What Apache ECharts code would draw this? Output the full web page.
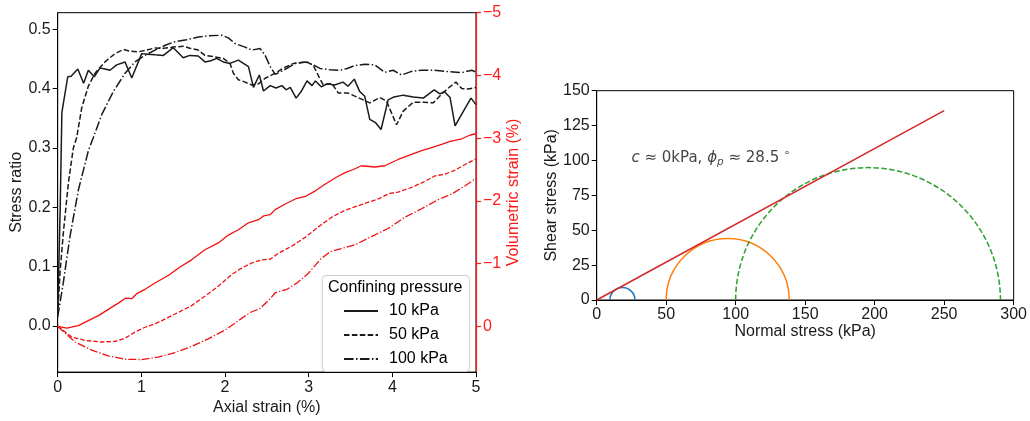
<!DOCTYPE html>
<html><head><meta charset="utf-8">
<script src="https://cdn.jsdelivr.net/npm/echarts@6/dist/echarts.min.js"></script>
<style>html,body{margin:0;padding:0;background:#fff}#c{width:1030px;height:421px}</style>
</head><body><div id="c"></div>
<script>
// ---- Left panel: stress ratio vs axial strain (%) ----
const strain10 = [0, 0.03, 0.05, 0.12, 0.16, 0.24, 0.31, 0.366, 0.437, 0.506, 0.566, 0.625, 0.705, 0.805, 0.885, 1.004, 1.08, 1.163, 1.263, 1.382, 1.50, 1.58, 1.68, 1.76, 1.83, 1.90, 1.98, 2.06, 2.16, 2.28, 2.34, 2.41, 2.46, 2.54, 2.61, 2.68, 2.73, 2.78, 2.85, 2.91, 2.98, 3.04, 3.08, 3.15, 3.22, 3.31, 3.41, 3.47, 3.545, 3.61, 3.67, 3.73, 3.80, 3.865, 3.95, 4.02, 4.13, 4.25, 4.37, 4.50, 4.57, 4.62, 4.69, 4.75, 4.85, 4.94, 5.0];
const ratio10 = [0.02, 0.2, 0.36, 0.42, 0.421, 0.433, 0.409, 0.431, 0.42, 0.435, 0.433, 0.431, 0.44, 0.445, 0.418, 0.459, 0.458, 0.457, 0.456, 0.469, 0.452, 0.456, 0.455, 0.445, 0.447, 0.451, 0.445, 0.4425, 0.448, 0.437, 0.402, 0.423, 0.396, 0.405, 0.401, 0.405, 0.398, 0.402, 0.384, 0.395, 0.413, 0.405, 0.413, 0.403, 0.408, 0.406, 0.411, 0.404, 0.416, 0.395, 0.387, 0.348, 0.3425, 0.331, 0.381, 0.386, 0.389, 0.386, 0.384, 0.398, 0.391, 0.395, 0.385, 0.337, 0.362, 0.384, 0.373];

const strain50 = [0, 0.028, 0.067, 0.127, 0.187, 0.227, 0.287, 0.366, 0.446, 0.565, 0.685, 0.785, 0.864, 0.964, 1.06, 1.163, 1.27, 1.382, 1.50, 1.58, 1.68, 1.76, 1.88, 1.98, 2.06, 2.10, 2.16, 2.24, 2.32, 2.40, 2.48, 2.60, 2.70, 2.82, 2.98, 3.055, 3.14, 3.175, 3.275, 3.355, 3.47, 3.59, 3.73, 3.85, 3.93, 4.05, 4.13, 4.25, 4.37, 4.49, 4.59, 4.67, 4.76, 4.83, 4.91, 5.0];
const ratio50 = [0.0175, 0.09, 0.156, 0.24, 0.30, 0.3175, 0.3675, 0.404, 0.426, 0.445, 0.459, 0.466, 0.463, 0.462, 0.465, 0.4685, 0.468, 0.47, 0.4715, 0.468, 0.465, 0.456, 0.4535, 0.451, 0.4425, 0.426, 0.415, 0.411, 0.406, 0.408, 0.4175, 0.426, 0.435, 0.4425, 0.445, 0.439, 0.415, 0.406, 0.409, 0.3925, 0.3925, 0.385, 0.376, 0.385, 0.379, 0.339, 0.362, 0.377, 0.377, 0.376, 0.391, 0.401, 0.411, 0.40, 0.3995, 0.402];

const strain100 = [0, 0.067, 0.147, 0.247, 0.366, 0.426, 0.526, 0.665, 0.805, 0.924, 1.04, 1.163, 1.30, 1.40, 1.54, 1.68, 1.80, 1.96, 2.04, 2.12, 2.24, 2.32, 2.42, 2.48, 2.54, 2.60, 2.70, 2.84, 2.96, 3.055, 3.135, 3.25, 3.375, 3.46, 3.555, 3.67, 3.79, 3.91, 4.01, 4.11, 4.23, 4.35, 4.49, 4.63, 4.73, 4.83, 4.95, 5.0];
const ratio100 = [0.015, 0.073, 0.151, 0.229, 0.295, 0.3175, 0.356, 0.395, 0.426, 0.445, 0.456, 0.465, 0.474, 0.479, 0.4825, 0.487, 0.489, 0.49, 0.4855, 0.476, 0.47, 0.465, 0.4675, 0.456, 0.437, 0.424, 0.431, 0.4425, 0.445, 0.44, 0.434, 0.432, 0.431, 0.434, 0.439, 0.441, 0.44, 0.4275, 0.431, 0.423, 0.429, 0.431, 0.431, 0.429, 0.428, 0.427, 0.431, 0.428];

// volumetric strain (%) — plotted on inverted right axis
const vStrain10 = [0, 0.108, 0.247, 0.366, 0.486, 0.605, 0.725, 0.813, 0.885, 0.944, 1.044, 1.163, 1.322, 1.462, 1.60, 1.76, 1.92, 2.04, 2.16, 2.28, 2.40, 2.46, 2.54, 2.60, 2.72, 2.84, 2.96, 3.08, 3.20, 3.335, 3.435, 3.535, 3.63, 3.79, 3.91, 4.07, 4.23, 4.35, 4.47, 4.59, 4.69, 4.83, 4.93, 5.0];
const vol10 = [0, 0.03, -0.01, -0.09, -0.17, -0.27, -0.37, -0.45, -0.44, -0.52, -0.59, -0.69, -0.81, -0.945, -1.06, -1.22, -1.33, -1.455, -1.54, -1.65, -1.70, -1.76, -1.78, -1.86, -1.95, -2.03, -2.07, -2.16, -2.27, -2.38, -2.45, -2.50, -2.56, -2.54, -2.56, -2.66, -2.74, -2.80, -2.85, -2.90, -2.95, -2.99, -3.05, -3.07];

const vStrain50 = [0, 0.167, 0.326, 0.526, 0.685, 0.805, 0.924, 1.044, 1.163, 1.28, 1.44, 1.60, 1.76, 1.92, 2.08, 2.20, 2.32, 2.44, 2.54, 2.64, 2.80, 2.96, 3.115, 3.275, 3.435, 3.63, 3.83, 3.97, 4.07, 4.23, 4.39, 4.51, 4.63, 4.75, 4.87, 5.0];
const vol50 = [0, 0.17, 0.225, 0.25, 0.24, 0.19, 0.09, 0.015, -0.04, -0.115, -0.22, -0.33, -0.48, -0.64, -0.825, -0.93, -1.01, -1.06, -1.07, -1.165, -1.28, -1.42, -1.585, -1.74, -1.85, -1.94, -2.03, -2.12, -2.14, -2.215, -2.31, -2.40, -2.425, -2.49, -2.58, -2.67];

const vStrain100 = [0, 0.207, 0.406, 0.605, 0.805, 1.004, 1.20, 1.40, 1.60, 1.80, 2.00, 2.16, 2.30, 2.42, 2.54, 2.60, 2.74, 2.86, 3.0, 3.135, 3.255, 3.39, 3.555, 3.75, 3.95, 4.15, 4.35, 4.55, 4.71, 4.87, 5.0];
const vol100 = [0, 0.25, 0.38, 0.47, 0.525, 0.53, 0.49, 0.42, 0.32, 0.20, 0.06, -0.09, -0.22, -0.285, -0.44, -0.535, -0.59, -0.69, -0.85, -1.06, -1.19, -1.24, -1.30, -1.43, -1.56, -1.74, -1.875, -2.02, -2.11, -2.24, -2.36];

const pressureNames = ['10 kPa', '50 kPa', '100 kPa'];
const stressTicks = [0.0, 0.1, 0.2, 0.3, 0.4, 0.5];
const volTicks = [-5, -4, -3, -2, -1, 0];

// ---- Right panel: Mohr circles ----
const sigma3 = [9.5, 50, 100];
const sigma1 = [27.5, 138.5, 290.5];
const circleColors = ['#1f77b4', '#ff7f0e', '#2ca02c'];
const envelopeSigma = [0, 250];
const envelopeTau = [0, 135.7];
const annotation = {x: 25, y: 102};

const zip = (a, b) => a.map((v, i) => [v, b[i]]);
const FONT = 'Liberation Sans';
const DASH = [5.5, 2.4];
const DASHDOT = [9.6, 2.4, 1.5, 2.4];
const RDASH = [4.6, 2];
const RDASHDOT = [8, 2, 1.3, 2];

const chart = echarts.init(document.getElementById('c'), null, {renderer: 'canvas'});

const tickStyle = {fontFamily: FONT, fontSize: 16, color: '#1a1a1a'};
const nameStyle = {fontFamily: FONT, fontSize: 16, color: '#1a1a1a'};

function blackLine(name, data, dash) {
  return {type: 'line', name, data, xAxisIndex: 0, yAxisIndex: 0, showSymbol: false, symbol: 'none',
    lineStyle: {color: '#1a1a1a', width: 1.5, type: dash}, itemStyle: {color: '#1a1a1a'}, z: 3};
}
function redLine(name, data, dash) {
  return {type: 'line', name, data, xAxisIndex: 0, yAxisIndex: 1, showSymbol: false, symbol: 'none',
    lineStyle: {color: '#f01010', width: 1.3, type: dash}, itemStyle: {color: '#f01010'}, z: 3};
}

const mohrData = sigma3.map((s, i) => [s, sigma1[i], i]);

const option = {
  animation: false,
  backgroundColor: '#fff',
  grid: [
    {left: 57.7, top: 12.7, width: 418.3, height: 364.3, show: true, borderColor: '#000', borderWidth: 1, backgroundColor: 'transparent', containLabel: false},
    {left: 596.7, top: 90.7, width: 419, height: 209.3, show: true, borderColor: '#000', borderWidth: 1, backgroundColor: 'transparent', containLabel: false}
  ],
  xAxis: [
    {gridIndex: 0, type: 'value', min: 0, max: 5, interval: 1,
      name: 'Axial strain (%)', nameLocation: 'middle', nameGap: 21, nameTextStyle: nameStyle,
      axisLine: {show: true, onZero: false, lineStyle: {color: '#000', width: 1}},
      axisTick: {show: true, inside: false, length: 5, lineStyle: {color: '#000'}},
      axisLabel: Object.assign({margin: 7}, tickStyle), splitLine: {show: false}},
    {gridIndex: 1, type: 'value', min: 0, max: 300, interval: 50,
      name: 'Normal stress (kPa)', nameLocation: 'middle', nameGap: 20, nameTextStyle: nameStyle,
      axisLine: {show: true, onZero: false, lineStyle: {color: '#000', width: 1}},
      axisTick: {show: true, length: 5, lineStyle: {color: '#000'}},
      axisLabel: Object.assign({margin: 7}, tickStyle), splitLine: {show: false}}
  ],
  yAxis: [
    {gridIndex: 0, type: 'value', min: -0.078, max: 0.528, position: 'left',
      name: 'Stress ratio', nameLocation: 'middle', nameGap: 31, nameRotate: 90, nameTextStyle: nameStyle,
      axisLine: {show: true, onZero: false, lineStyle: {color: '#000', width: 1}},
      axisTick: {show: true, length: 5, customValues: stressTicks, lineStyle: {color: '#000'}},
      axisLabel: Object.assign({margin: 7, customValues: stressTicks, formatter: v => v.toFixed(1)}, tickStyle),
      splitLine: {show: false}},
    {gridIndex: 0, type: 'value', min: -5, max: 0.73, inverse: true, position: 'right',
      name: 'Volumetric strain (%)', nameLocation: 'middle', nameGap: 27, nameRotate: 90,
      nameTextStyle: Object.assign({}, nameStyle, {color: '#ff1a1a'}),
      axisLine: {show: true, onZero: false, lineStyle: {color: '#ff1a1a', width: 1.2}},
      axisTick: {show: true, length: 5, customValues: volTicks, lineStyle: {color: '#ff1a1a', width: 1.2}},
      axisLabel: Object.assign({margin: 7, customValues: volTicks,
        formatter: v => (v < 0 ? '\u2212' + Math.abs(v) : String(v))}, tickStyle, {color: '#ff1a1a'}),
      splitLine: {show: false}},
    {gridIndex: 1, type: 'value', min: 0, max: 150, interval: 25,
      name: 'Shear stress (kPa)', nameLocation: 'middle', nameGap: 33, nameRotate: 90, nameTextStyle: nameStyle,
      axisLine: {show: true, onZero: false, lineStyle: {color: '#000', width: 1}},
      axisTick: {show: true, length: 5, lineStyle: {color: '#000'}},
      axisLabel: Object.assign({margin: 7}, tickStyle), splitLine: {show: false}}
  ],
  legend: {
    data: pressureNames, orient: 'vertical', left: 338, top: 298, itemWidth: 34, itemHeight: 14, itemGap: 8,
    textStyle: {fontFamily: FONT, fontSize: 16, color: '#000', padding: [0, 0, 0, 6]}, z: 20,
    itemStyle: {opacity: 0},
    selectedMode: false
  },
  graphic: [
    {type: 'rect', left: 321.7, top: 275, z: 10,
      shape: {width: 147.5, height: 96, r: 4},
      style: {fill: 'rgba(255,255,255,0.85)', stroke: '#cccccc', lineWidth: 1}},
    {type: 'text', z: 21, left: 328, top: 280,
      style: {text: 'Confining pressure', fontFamily: FONT, fontSize: 16, fill: '#000'}}
  ],
  series: [
    blackLine(pressureNames[0], zip(strain10, ratio10), 'solid'),
    blackLine(pressureNames[1], zip(strain50, ratio50), DASH),
    blackLine(pressureNames[2], zip(strain100, ratio100), DASHDOT),
    redLine('vol 10', zip(vStrain10, vol10), 'solid'),
    redLine('vol 50', zip(vStrain50, vol50), RDASH),
    redLine('vol 100', zip(vStrain100, vol100), RDASHDOT),
    {type: 'custom', name: 'Mohr circles', xAxisIndex: 1, yAxisIndex: 2, data: mohrData, clip: false,
      renderItem: function (params, api) {
        const s3 = api.value(0), s1 = api.value(1), idx = api.value(2);
        const c = api.coord([(s3 + s1) / 2, 0]);
        const r = api.size([(s1 - s3) / 2, 0])[0];
        return {type: 'arc', shape: {cx: c[0], cy: c[1], r: r, startAngle: Math.PI, endAngle: 2 * Math.PI, clockwise: true},
          style: {stroke: circleColors[idx], fill: null, lineWidth: 1.5, lineDash: idx === 2 ? [5.5, 2.4] : null}};
      }, z: 3},
    {type: 'line', name: 'envelope', xAxisIndex: 1, yAxisIndex: 2, data: zip(envelopeSigma, envelopeTau),
      showSymbol: false, symbol: 'none', lineStyle: {color: '#d62728', width: 1.5}, z: 4},
    {type: 'scatter', name: 'annot', xAxisIndex: 1, yAxisIndex: 2, data: [[annotation.x, annotation.y]],
      symbolSize: 0, silent: true,
      label: {show: true, position: [0, 0], align: 'left', verticalAlign: 'middle',
        formatter: '{i|c}{n| \u2248 0kPa, }{i|\u03d5}{s|p}{n| \u2248 28.5 }{d|\u2218}',
        rich: {
          n: {fontFamily: 'DejaVu Sans', fontSize: 15, color: '#111'},
          i: {fontFamily: 'DejaVu Sans', fontStyle: 'italic', fontSize: 15, color: '#111'},
          s: {fontFamily: 'DejaVu Sans', fontStyle: 'italic', fontSize: 10.5, color: '#111', padding: [9, 0, 0, 0]},
          d: {fontFamily: 'DejaVu Sans', fontSize: 10.5, color: '#111', padding: [0, 0, 9, 0]}
        }}}
  ]
};
chart.setOption(option);
</script>
</body></html>
